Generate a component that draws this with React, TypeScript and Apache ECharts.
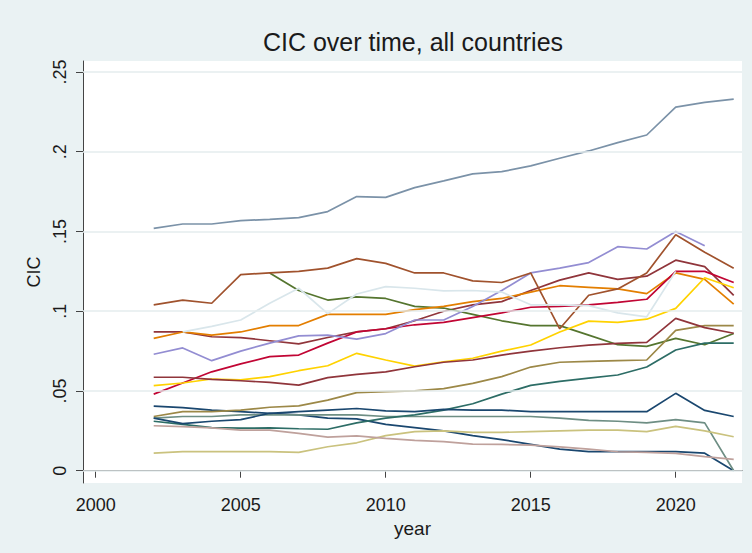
import React, { useEffect, useRef } from "react";
import * as echarts from "echarts";

const years = [2002, 2003, 2004, 2005, 2006, 2007, 2008, 2009, 2010, 2011, 2012, 2013, 2014, 2015, 2016, 2017, 2018, 2019, 2020, 2021, 2022];

const navy1 = [0.0405, 0.0395, 0.038, 0.037, 0.036, 0.035, 0.033, 0.0325, 0.029, 0.027, 0.025, 0.022, 0.0195, 0.0165, 0.0135, 0.012, 0.012, 0.012, 0.012, 0.011, 0.0];
const maroon1 = [0.087, 0.087, 0.084, 0.0835, 0.0815, 0.0795, 0.0835, 0.087, 0.089, 0.094, 0.1, 0.104, 0.106, 0.113, 0.1195, 0.124, 0.12, 0.122, 0.132, 0.128, 0.11];
const forestGreen = [null, null, null, null, 0.124, 0.113, 0.107, 0.109, 0.108, 0.103, 0.102, 0.098, 0.094, 0.091, 0.091, 0.085, 0.079, 0.078, 0.083, 0.079, 0.086];
const dkOrange = [0.083, 0.087, 0.085, 0.087, 0.091, 0.091, 0.098, 0.098, 0.098, 0.101, 0.103, 0.106, 0.108, 0.112, 0.116, 0.115, 0.114, 0.111, 0.124, 0.12, 0.1045];
const teal = [0.033, 0.034, 0.034, 0.035, 0.035, 0.035, 0.035, 0.035, 0.034, 0.034, 0.034, 0.034, 0.034, 0.034, 0.033, 0.0315, 0.031, 0.03, 0.032, 0.03, 0.0];
const cranberry = [0.048, 0.055, 0.062, 0.067, 0.0715, 0.0725, 0.08, 0.087, 0.089, 0.0915, 0.093, 0.096, 0.099, 0.1025, 0.103, 0.104, 0.1055, 0.1075, 0.125, 0.125, 0.118];
const lavender = [0.073, 0.077, 0.069, 0.075, 0.08, 0.0845, 0.085, 0.0825, 0.086, 0.0945, 0.0945, 0.103, 0.113, 0.124, 0.127, 0.1305, 0.1405, 0.139, 0.15, 0.141, null];
const khaki = [0.011, 0.012, 0.012, 0.012, 0.012, 0.0115, 0.015, 0.0175, 0.022, 0.0245, 0.025, 0.024, 0.024, 0.0245, 0.025, 0.0255, 0.0255, 0.0245, 0.0278, 0.025, 0.0213];
const sienna = [0.104, 0.107, 0.105, 0.123, 0.124, 0.125, 0.127, 0.133, 0.13, 0.124, 0.124, 0.119, 0.118, 0.124, 0.089, 0.11, 0.114, 0.124, 0.148, 0.137, 0.127];
const emidBlue = [0.152, 0.1547, 0.1547, 0.1568, 0.1576, 0.1587, 0.1625, 0.1719, 0.1714, 0.1775, 0.1817, 0.1861, 0.1875, 0.1911, 0.1959, 0.2005, 0.2057, 0.2105, 0.228, 0.231, 0.233];
const emerald = [0.031, 0.029, 0.027, 0.0267, 0.0268, 0.0263, 0.026, 0.03, 0.033, 0.035, 0.038, 0.042, 0.048, 0.0535, 0.056, 0.058, 0.06, 0.065, 0.0757, 0.08, 0.08];
const brown = [0.034, 0.037, 0.037, 0.038, 0.0398, 0.0406, 0.0443, 0.049, 0.0496, 0.05, 0.0515, 0.0548, 0.059, 0.065, 0.068, 0.0685, 0.069, 0.0694, 0.088, 0.091, 0.091];
const erose = [0.0282, 0.0276, 0.0268, 0.0255, 0.0255, 0.0234, 0.021, 0.0218, 0.0203, 0.019, 0.0182, 0.0167, 0.0165, 0.016, 0.015, 0.0135, 0.0119, 0.0115, 0.0109, 0.0088, 0.0071];
const gold = [0.0533, 0.055, 0.0575, 0.0569, 0.059, 0.0627, 0.0658, 0.0736, 0.0694, 0.0656, 0.0683, 0.0705, 0.075, 0.0788, 0.087, 0.0938, 0.093, 0.095, 0.1018, 0.121, 0.1147];
const bluishGray = [null, 0.087, 0.0905, 0.0945, 0.105, 0.1144, 0.0985, 0.1108, 0.1154, 0.1144, 0.1127, 0.113, 0.112, 0.104, 0.104, 0.1035, 0.099, 0.0965, 0.125, null, null];
const navy2 = [0.033, 0.0295, 0.031, 0.032, 0.036, 0.037, 0.038, 0.039, 0.0375, 0.037, 0.0385, 0.038, 0.038, 0.037, 0.037, 0.037, 0.037, 0.037, 0.0485, 0.0378, 0.034];
const maroon2 = [0.0586, 0.0586, 0.0573, 0.0564, 0.0554, 0.0537, 0.0584, 0.0604, 0.062, 0.0652, 0.068, 0.0694, 0.0725, 0.075, 0.0771, 0.0788, 0.0799, 0.0805, 0.0955, 0.0897, 0.0862];

const seriesList: [string, (number | null)[]][] = [
  ["#1a476f", navy1],
  ["#90353b", maroon1],
  ["#55752f", forestGreen],
  ["#e37e00", dkOrange],
  ["#6e8e84", teal],
  ["#c10534", cranberry],
  ["#938dd2", lavender],
  ["#cac27e", khaki],
  ["#a0522d", sienna],
  ["#7b92a8", emidBlue],
  ["#2d6d66", emerald],
  ["#9c8847", brown],
  ["#bfa19c", erose],
  ["#ffd200", gold],
  ["#d9e6eb", bluishGray],
  ["#1a476f", navy2],
  ["#90353b", maroon2],
];

const xTicks = [2000, 2005, 2010, 2015, 2020];
const yTicks = [0, 0.05, 0.1, 0.15, 0.2, 0.25];
const yTickLabels = ["0", ".05", ".1", ".15", ".2", ".25"];

const FONT = "Liberation Sans, Arial, sans-serif";

export default function App() {
  const ref = useRef<HTMLDivElement>(null);
  useEffect(() => {
    if (!ref.current) return;
    const chart = echarts.init(ref.current, null, { renderer: "svg" });
    const axisColor = "#444";
    const series: any[] = [
      {
        type: "line",
        data: [],
        silent: true,
        markLine: {
          silent: true,
          symbol: "none",
          label: { show: false },
          lineStyle: { color: "#e4edee", width: 1.5, type: "solid" },
          data: yTicks.map((v) => ({ yAxis: v })),
        },
      },
      ...seriesList.map(([color, vals]) => ({
        type: "line",
        data: years.map((y, i) => [y, vals[i]]),
        showSymbol: false,
        symbol: "none",
        connectNulls: false,
        lineStyle: { color, width: 1.7 },
        itemStyle: { color },
      })),
    ];
    chart.setOption({
      animation: false,
      backgroundColor: "#eaf2f3",
      textStyle: { fontFamily: FONT },
      grid: { left: 83, right: 10, top: 61, bottom: 70, show: true, backgroundColor: "#ffffff", borderWidth: 0 },
      graphic: [
        {
          type: "text",
          style: {
            text: "CIC over time, all countries",
            x: 413,
            y: 42,
            textAlign: "center",
            textVerticalAlign: "middle",
            fontSize: 25,
            fontFamily: FONT,
            fill: "#1a1a1a",
          },
        },
      ],
      xAxis: {
        type: "value",
        min: 1999.562,
        max: 2022.286,
        name: "year",
        nameLocation: "middle",
        nameGap: 31,
        nameTextStyle: { fontSize: 19, color: "#1a1a1a", fontFamily: FONT },
        axisLine: { show: true, lineStyle: { color: axisColor, width: 1 } },
        axisTick: { show: true, customValues: xTicks, length: 7, lineStyle: { color: axisColor } },
        axisLabel: { customValues: xTicks, fontSize: 18, margin: 13, color: "#1a1a1a", fontFamily: FONT, formatter: (v: number) => String(v) },
        splitLine: { show: false },
      },
      yAxis: {
        type: "value",
        min: -0.00771,
        max: 0.2569,
        name: "CIC",
        nameLocation: "middle",
        nameGap: 37,
        nameTextStyle: { fontSize: 18, color: "#1a1a1a", fontFamily: FONT },
        axisLine: { show: true, lineStyle: { color: axisColor, width: 1 } },
        axisTick: { show: true, customValues: yTicks, length: 7, lineStyle: { color: axisColor } },
        axisLabel: {
          customValues: yTicks,
          rotate: 90,
          fontSize: 18,
          margin: 14,
          color: "#1a1a1a",
          fontFamily: FONT,
          formatter: (v: number) => {
            const i = yTicks.findIndex((t) => Math.abs(t - v) < 1e-9);
            return i >= 0 ? yTickLabels[i] : "";
          },
        },
        splitLine: { show: false },
      },
      series,
    });
    return () => chart.dispose();
  }, []);
  return <div ref={ref} style={{ position: "fixed", left: 0, top: 0, width: 752, height: 553 }} />;
}
